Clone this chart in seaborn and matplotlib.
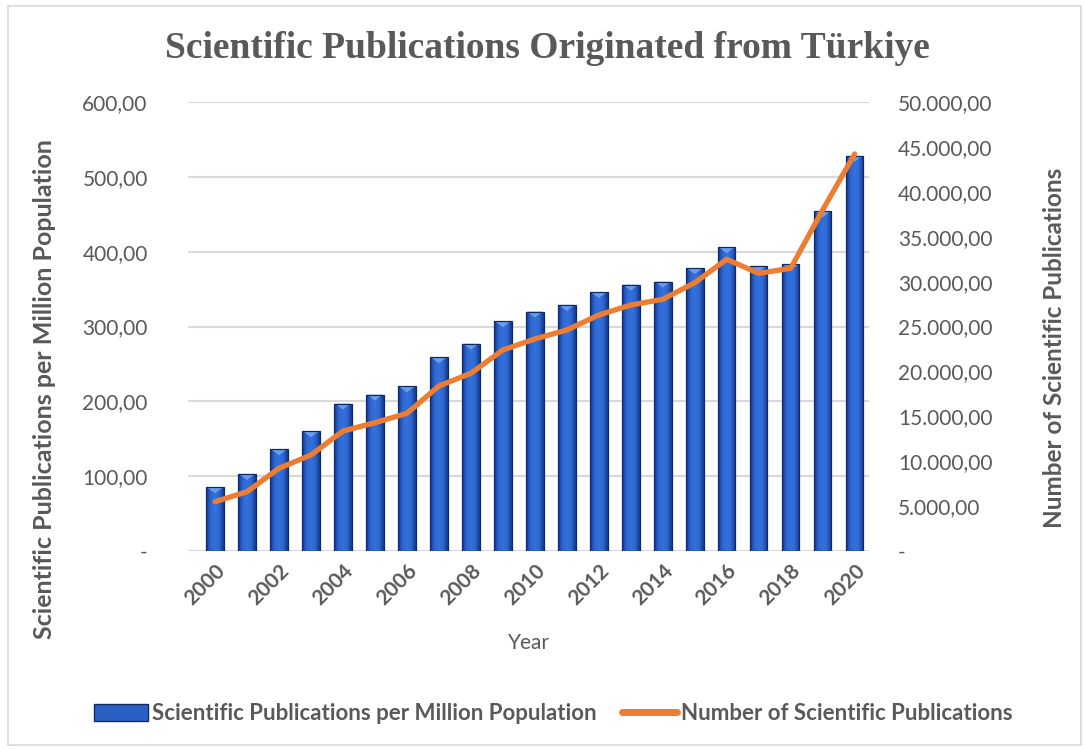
import numpy as np
import pandas as pd
import matplotlib
matplotlib.use("Agg")
import matplotlib.pyplot as plt
import seaborn as sns
from matplotlib.colors import LinearSegmentedColormap
from matplotlib.patches import Rectangle, Patch, Polygon
from matplotlib.lines import Line2D
from matplotlib.ticker import FuncFormatter

# Data
years = [str(y) for y in range(2000, 2021)]
per_million = [85, 103, 136, 160, 197, 209, 220, 259, 277, 307, 320,
               329, 346, 356, 360, 378, 406, 381, 383, 454, 528]
publications = [5490, 6600, 9210, 10690, 13360, 14290, 15330, 18370, 19790, 22380, 23610,
                24610, 26280, 27390, 28030, 29880, 32480, 30920, 31480, 37970, 44210]

bar_label = "Scientific Publications per Million Population"
line_label = "Number of Scientific Publications"
title = "Scientific Publications Originated from Türkiye"

df = pd.DataFrame({"year": years, "per_million": per_million,
                   "publications": publications, "pos": np.arange(len(years))})

sns.set_theme(style="white")
plt.rcParams["font.family"] = ["Lato", "DejaVu Sans"]
TXT = "#595959"
GRID = "#D9D9D9"
ORANGE = "#ED7D31"

W, H = 1085, 749
fig = plt.figure(figsize=(W / 100, H / 100), dpi=100)
fig.patch.set_facecolor("white")
fig.patches.append(Rectangle((8 / W, 4 / H), 1 - 12 / W, 1 - 10 / H, transform=fig.transFigure,
                             fill=False, edgecolor=GRID, linewidth=1.2))

ax = fig.add_axes([188 / W, (H - 551) / H, (869 - 188) / W, (551 - 102) / H])
sns.barplot(data=df, x="year", y="per_million", ax=ax, color="#2C5FC4",
            width=0.55, edgecolor="#102A63", linewidth=0.9, zorder=2)

# Horizontal shading on each bar plus a light bevel at the top
shade = LinearSegmentedColormap.from_list("bar", ["#163888", "#2D66D2", "#3472DC", "#2D66D2", "#163888"])
grad = np.linspace(0, 1, 64).reshape(1, -1)
for p in ax.patches:
    x0, y0 = p.get_x(), p.get_y()
    w, h = p.get_width(), p.get_height()
    im = ax.imshow(grad, cmap=shade, extent=(x0, x0 + w, y0, y0 + h), aspect="auto",
                   zorder=2.5, interpolation="bicubic")
    im.set_clip_path(p)
    bevel = 8.0
    ax.add_patch(Polygon([(x0 + 0.05 * w, y0 + h), (x0 + 0.95 * w, y0 + h),
                          (x0 + 0.5 * w, y0 + h - bevel)], closed=True,
                         facecolor="#6FA3F2", edgecolor="none", alpha=0.9, zorder=2.6))
    p.set_zorder(2.7)
    p.set_facecolor("none")

ax.set_xlim(-0.845, 20.45)
ax.set_ylim(0, 600)
ax.set_yticks(np.arange(0, 601, 100))
fmt = FuncFormatter(lambda v, _: "-" if v == 0 else f"{v:,.2f}".replace(",", "X").replace(".", ",").replace("X", "."))
ax.yaxis.set_major_formatter(fmt)
ax.grid(axis="y", color=GRID, linewidth=1.5, zorder=0)
ax.set_axisbelow(True)
for s in ax.spines.values():
    s.set_visible(False)
ax.axhline(0, color=GRID, linewidth=1.5, zorder=1)

ax.set_xticks(np.arange(0, 21, 2))
ax.set_xticklabels(years[::2], rotation=45, ha="right", rotation_mode="anchor",
                   fontsize=15, fontweight="bold", color=TXT)
ax.tick_params(axis="x", length=0, pad=7)
ax.tick_params(axis="y", length=0, pad=29, labelsize=15, labelcolor=TXT)
ax.set_xlabel("Year", fontsize=15, color=TXT, labelpad=17)
ax.set_ylabel("")

ax2 = ax.twinx()
sns.lineplot(data=df, x="pos", y="publications", ax=ax2, color=ORANGE, linewidth=3.8,
             solid_capstyle="round", solid_joinstyle="round", zorder=3)
ax2.set_ylim(0, 50000)
ax2.set_yticks(np.arange(0, 50001, 5000))
ax2.yaxis.set_major_formatter(fmt)
ax2.tick_params(axis="y", length=0, pad=21, labelsize=15, labelcolor=TXT)
for s in ax2.spines.values():
    s.set_visible(False)
ax2.set_ylabel("")
ax2.set_xlabel("")

# Axis titles
fig.text(45 / W, 1 - 389 / H, bar_label, rotation=90, ha="center", va="center",
         fontsize=18, fontweight="bold", color=TXT)
fig.text(1055 / W, 1 - 348 / H, line_label, rotation=90, ha="center", va="center",
         fontsize=17.5, fontweight="bold", color=TXT)

fig.text(547 / W, 1 - 49 / H, title, ha="center", va="center", fontsize=27,
         fontweight="bold", color=TXT, family=["Liberation Serif", "DejaVu Serif"])

handles = [Patch(facecolor="#2C5FC4", edgecolor="#102A63"),
           Line2D([0], [0], color=ORANGE, linewidth=5, solid_capstyle="round")]
leg = fig.legend(handles, [bar_label, line_label], loc="center", ncol=2, frameon=False,
                 bbox_to_anchor=(553 / W, 1 - 714 / H), handlelength=2.45, handleheight=0.8,
                 handletextpad=0.18, columnspacing=1.15,
                 prop={"weight": "bold", "size": 16, "family": ["Lato", "DejaVu Sans"]})
for t in leg.get_texts():
    t.set_color(TXT)

fig.savefig("out.png", dpi=100)
